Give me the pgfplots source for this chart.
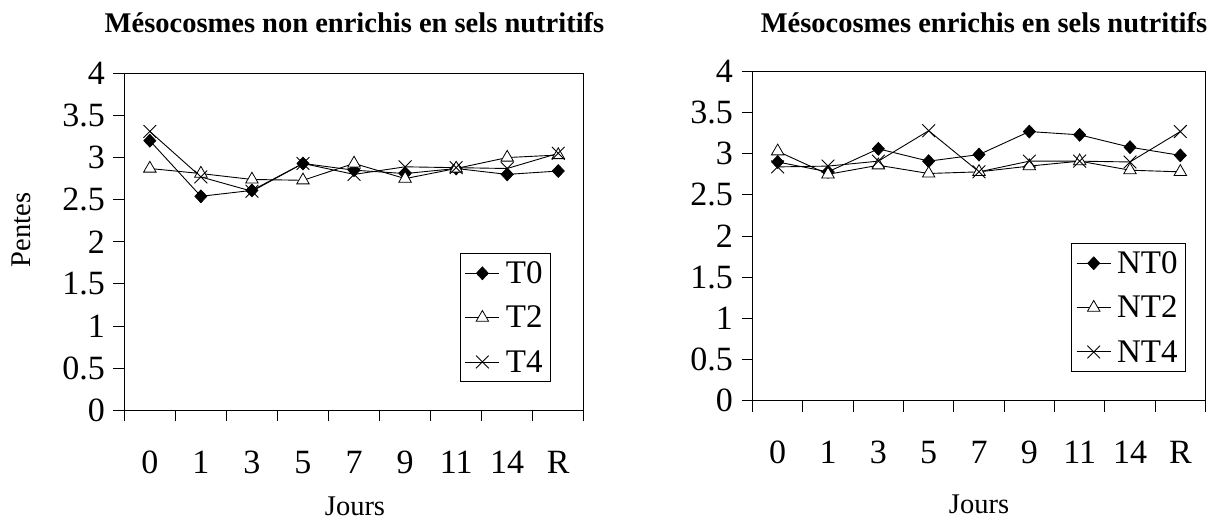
\documentclass[border=0pt]{standalone}
\usepackage{pgfplots}
\pgfplotsset{compat=1.18}
\usepackage{fontspec}
\setmainfont{Liberation Serif}

\newcommand{\ticksize}{\fontsize{34}{40}\selectfont}
\newcommand{\legsize}{\fontsize{33}{39}\selectfont}
\newcommand{\labsize}{\fontsize{28.5}{34}\selectfont}
\newcommand{\titsize}{\bfseries\fontsize{28.5}{34}\selectfont}

\pgfplotsset{
  panel/.style={
    scale only axis,
    xmin=-0.5, xmax=8.5, ymin=0, ymax=4,
    xtick={0,...,8},
    xticklabels={0,1,3,5,7,9,11,14,R},
    minor xtick={-0.5,0.5,...,8.5},
    ytick={0,0.5,...,4},
    tick pos=left,
    tick align=outside,
    major tick length=11pt,
    minor tick length=11pt,
    major x tick style={draw=none},
    every tick/.style={black, line width=0.9pt},
    axis line style={line width=0.9pt},
    tick label style={font=\ticksize},
    /pgf/number format/assume math mode=true,
    xticklabel style={anchor=base, yshift=-52pt},
    yticklabel style={xshift=-5pt},
    legend style={draw=black, line width=0.6pt, font=\legsize,
      inner xsep=5pt, inner ysep=5pt, row sep=15pt, column sep=3pt,
      nodes={inner sep=3pt},
      legend cell align=left},
    legend image code/.code={%
      \draw[mark repeat=2, mark phase=2] plot coordinates {(0pt,0pt) (17pt,0pt) (34pt,0pt)};},
    every axis plot/.append style={black, line width=0.9pt},
  },
  s0/.style={mark=diamond*, mark size=6.5pt, mark options={fill=black, xscale=1.25, line width=0.6pt}},
  s2/.style={mark=triangle*, mark size=7.2pt, mark options={fill=white, line width=0.8pt}},
  s4/.style={mark=x, mark size=9pt, mark options={line width=0.9pt}},
}

\begin{document}
\begin{tikzpicture}
\useasboundingbox (0pt,0pt) rectangle (1218pt,-521pt);

\begin{axis}[panel, at={(124.3pt,-410.3pt)}, anchor=south west,
  width=459.5pt, height=337pt,
  legend style={at={(0.7298,0.466)}, anchor=north west}]
\addplot[s0] coordinates {(0,3.20) (1,2.54) (2,2.61) (3,2.93) (4,2.85) (5,2.81) (6,2.87) (7,2.80) (8,2.84)};
\addplot[s2] coordinates {(0,2.87) (1,2.81) (2,2.74) (3,2.73) (4,2.93) (5,2.75) (6,2.87) (7,3.00) (8,3.03)};
\addplot[s4] coordinates {(0,3.31) (1,2.77) (2,2.60) (3,2.93) (4,2.80) (5,2.89) (6,2.88) (7,2.87) (8,3.05)};
\legend{T0,T2,T4}
\end{axis}

\begin{axis}[panel, at={(752.5pt,-400.5pt)}, anchor=south west,
  width=453pt, height=329pt,
  legend style={at={(0.703,0.478)}, anchor=north west}]
\addplot[s0] coordinates {(0,2.90) (1,2.78) (2,3.06) (3,2.91) (4,2.99) (5,3.27) (6,3.23) (7,3.08) (8,2.98)};
\addplot[s2] coordinates {(0,3.03) (1,2.75) (2,2.86) (3,2.76) (4,2.78) (5,2.85) (6,2.91) (7,2.80) (8,2.78)};
\addplot[s4] coordinates {(0,2.84) (1,2.85) (2,2.91) (3,3.28) (4,2.78) (5,2.91) (6,2.91) (7,2.90) (8,3.27)};
\legend{NT0,NT2,NT4}
\end{axis}

\node[font=\titsize, anchor=base] at (354.5pt,-33pt) {Mésocosmes non enrichis en sels nutritifs};
\node[font=\titsize, anchor=base] at (984pt,-32.5pt) {Mésocosmes enrichis en sels nutritifs};
\node[font=\labsize, rotate=90, anchor=base] at (30pt,-230pt) {Pentes};
\node[font=\labsize, anchor=base] at (355pt,-515pt) {Jours};
\node[font=\labsize, anchor=base] at (979pt,-513pt) {Jours};
\end{tikzpicture}
\end{document}
